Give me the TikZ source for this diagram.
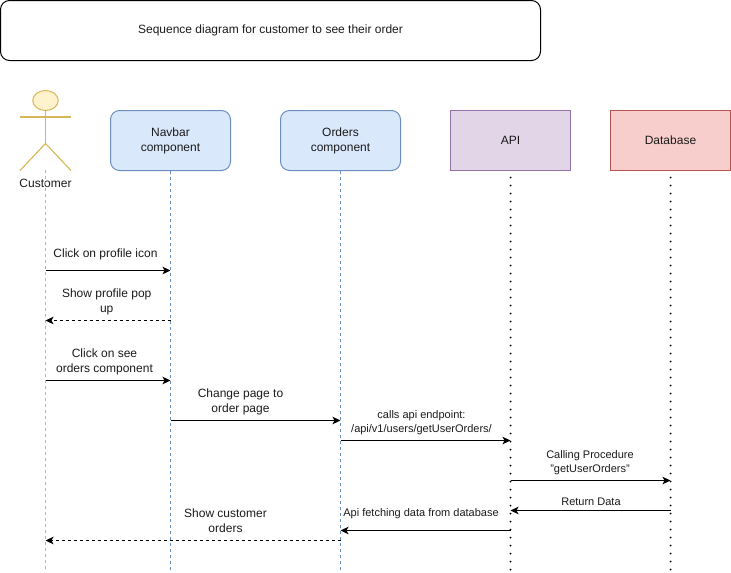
\documentclass[tikz,border=0pt]{standalone}
\usepackage{fontspec}
\setmainfont[Ligatures=NoCommon]{Liberation Sans}
\usetikzlibrary{arrows.meta,shapes.geometric}
\definecolor{blueF}{HTML}{DAE8FC}\definecolor{blueD}{HTML}{6C8EBF}
\definecolor{purF}{HTML}{E1D5E7}\definecolor{purD}{HTML}{9673A6}
\definecolor{redF}{HTML}{F8CECC}\definecolor{redD}{HTML}{B85450}
\definecolor{yelF}{HTML}{FFF2CC}\definecolor{yelD}{HTML}{D6B656}
\definecolor{txt}{HTML}{1A1A1A}
\newcommand{\lowered}[2]{\raisebox{-#1pt}{\begin{tabular}{@{}c@{}}#2\end{tabular}}}
\tikzset{
 x=1pt,y=-1pt,
 every node/.style={text=txt,font=\fontsize{12}{15}\selectfont,align=center,inner sep=0pt},
 base/.style={line width=1pt,minimum width=120pt,minimum height=60pt},
 roundbox/.style={base,draw=blueD,fill=blueF,rounded corners=9pt},
 apibox/.style={base,draw=purD,fill=purF},
 dbbox/.style={base,draw=redD,fill=redF},
 titlebox/.style={line width=1pt,draw=black,rounded corners=9pt,minimum width=540pt,minimum height=60pt},
 lifeB/.style={draw=blueD,line width=1pt,dash pattern=on 3pt off 3pt},
 lifeY/.style={draw=yelD,line width=1pt,dash pattern=on 3pt off 3pt},
 lifeK/.style={draw=black,line width=2pt,line cap=round,dash pattern=on 0pt off 8pt},
 msg/.style={draw=black,line width=1pt,-{Stealth[length=8pt,width=7.5pt,inset=2pt]}},
 ret/.style={msg,dash pattern=on 3pt off 3pt},
 actor/.style={draw=yelD,line width=1.1pt},
 small/.style={font=\fontsize{11}{14}\selectfont},
}
\begin{document}
\begin{tikzpicture}
\useasboundingbox (0,0) rectangle (731,573);
\node[titlebox] (title) at (270.5,30.5) {\lowered{0.5}{Sequence diagram for customer to see their order}};
\node[roundbox] (nav) at (170.5,140.5) {\lowered{1}{Navbar\\component}};
\node[roundbox] (ord) at (340.5,140.5) {\lowered{1}{Orders\\component}};
\node[apibox] (api) at (510.5,140.5) {API};
\node[dbbox] (db) at (670.5,140.5) {Database};
% actor
\node[draw=yelD,fill=yelF,line width=1pt,ellipse,minimum width=25.5pt,minimum height=20pt] (head) at (45.5,100.5) {};
\coordinate (hip) at (45.5,143.5);
\coordinate (armL) at (20,117);\coordinate (armR) at (71,117);
\coordinate (legL) at (20,170.5);\coordinate (legR) at (71,170.5);
\draw[actor] (head.south) -- (hip);
\draw[actor] (armL) -- (armR);
\draw[actor] (legL) -- (hip) -- (legR);
\node (cust) at (45.5,183.5) {Customer};
% lifelines
\coordinate (cEnd) at (45.5,570);\coordinate (nEnd) at (170.5,570);\coordinate (oEnd) at (340.5,570);
\coordinate (aEnd) at (510.5,570);\coordinate (dEnd) at (670.5,570);
\draw[lifeY] (45.5,170) -- (cEnd);
\draw[lifeB] (nav.south) -- (nEnd);
\draw[lifeB] (ord.south) -- (oEnd);
\draw[lifeK] (510.5,177.5) -- (aEnd);
\draw[lifeK] (670.5,177.5) -- (dEnd);
% messages
\foreach \n/\x in {c/45.5,n/170.5,o/340.5,a/510.5,d/670.5}{
 \foreach \y in {270,320,380,420,440,480,510,530,540}{
  \coordinate (\n\y) at (\x,\y.5);
 }
}
\draw[msg] (c270) -- (n270);
\draw[ret] (n320) -- (c320);
\draw[msg] (c380) -- (n380);
\draw[msg] (n420) -- (o420);
\draw[msg] (o440) -- (a440);
\draw[msg] (a480) -- (d480);
\draw[msg] (d510) -- (a510);
\draw[msg] (a530) -- (o530);
\draw[ret] (o540) -- (c540);
% labels
\node (l1) at (105.5,254) {Click on profile icon};
\node (l2) at (106.7,301.5) {Show profile pop\\up};
\node (l3) at (104.5,361.5) {Click on see\\orders component};
\node (l4) at (240.5,401.5) {Change page to\\order page};
\node[small] (l5) at (421.5,422.5) {calls api endpoint:\\/api/v1/users/getUserOrders/};
\node[small] (l6) at (590,462.5) {Calling Procedure\\\symbol{34}getUserOrders\symbol{34}};
\node[small] (l7) at (591,502) {Return Data};
\node[small] (l8) at (421,514) {Api fetching data from database};
\node (l9) at (225.5,521) {Show customer\\orders};
\end{tikzpicture}
\end{document}
